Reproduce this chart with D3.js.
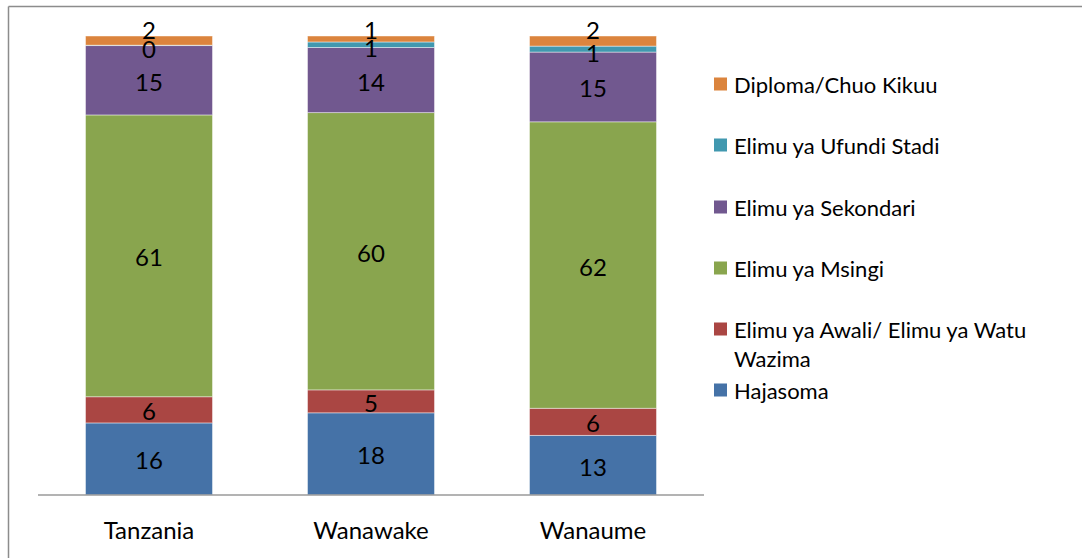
<!DOCTYPE html>
<html>
<head>
<meta charset="utf-8">
<script src="https://cdn.jsdelivr.net/npm/d3@7"></script>
<style>
  html, body { margin: 0; padding: 0; background: #fff; }
  svg { display: block; font-family: Lato, "Open Sans", sans-serif; }
</style>
</head>
<body>
<svg id="chart" width="1082" height="558"></svg>
<script>
// ---- Data ----
const categories = ["Tanzania", "Wanawake", "Wanaume"];
const seriesNames = ["Hajasoma", "Elimu ya Awali/ Elimu ya Watu Wazima", "Elimu ya Msingi", "Elimu ya Sekondari", "Elimu ya Ufundi Stadi", "Diploma/Chuo Kikuu"];
const hajasoma   = [15.7, 17.9, 13.0];
const awali      = [5.7, 5.0, 5.9];
const msingi     = [61.4, 60.4, 62.4];
const sekondari  = [15.1, 14.2, 15.2];
const ufundi     = [0.1, 1.2, 1.3];
const diploma    = [2.0, 1.3, 2.2];
const seriesColors = ["#4572A7", "#AA4643", "#89A54E", "#71588F", "#4198AF", "#DB843D"];
const legendLines = {"Elimu ya Awali/ Elimu ya Watu Wazima": ["Elimu ya Awali/ Elimu ya Watu", "Wazima"]};

const seriesValues = [hajasoma, awali, msingi, sekondari, ufundi, diploma];
const rows = categories.map((c, i) => {
  const r = {category: c};
  seriesNames.forEach((s, j) => r[s] = seriesValues[j][i]);
  return r;
});

const svg = d3.select("#chart");

// chart border (top & left visible)
svg.append("line").attr("x1", 8.5).attr("x2", 1082).attr("y1", 6.5).attr("y2", 6.5)
  .attr("stroke", "#8c8c8c").attr("stroke-width", 1.5);
svg.append("line").attr("x1", 8.5).attr("x2", 8.5).attr("y1", 6.5).attr("y2", 558)
  .attr("stroke", "#8c8c8c").attr("stroke-width", 1.5);

const plot = {left: 38, right: 704, top: 36, bottom: 495};

const x = d3.scaleBand().domain(categories).range([plot.left, plot.right])
  .paddingInner(0.428).paddingOuter(0.214);
const y = d3.scaleLinear().domain([0, 100]).range([plot.bottom, plot.top]);

const stack = d3.stack().keys(seriesNames);
const stacked = stack(rows);

const g = svg.append("g");
const layers = g.selectAll("g.layer").data(stacked).join("g")
  .attr("class", "layer")
  .attr("fill", (d, i) => seriesColors[i]);

layers.selectAll("rect").data(d => d).join("rect")
  .attr("x", d => x(d.data.category))
  .attr("width", x.bandwidth())
  .attr("y", d => y(d[1]))
  .attr("height", d => Math.max(0, y(d[0]) - y(d[1])))
  .attr("stroke", "rgba(255,255,255,0.55)")
  .attr("stroke-width", 0.8);

// data labels
const nSeries = seriesNames.length;
stacked.forEach((layer, si) => {
  layer.forEach(d => {
    let cy = (y(d[0]) + y(d[1])) / 2 + 1;
    if (si === nSeries - 1) cy = y(d[1]) - 7;       // top label pushed above
    else if (si === nSeries - 2) cy = cy + 2;
    g.append("text")
      .attr("x", x(d.data.category) + x.bandwidth() / 2)
      .attr("y", cy)
      .attr("text-anchor", "middle")
      .attr("dominant-baseline", "central")
      .attr("font-size", 24)
      .attr("fill", "#000")
      .text(Math.round(d[1] - d[0]));
  });
});

// x axis
const xAxis = svg.append("g").attr("transform", `translate(0,${plot.bottom})`)
  .call(d3.axisBottom(x).tickSize(0).tickPadding(27));
xAxis.select(".domain").attr("stroke", "#9a9a9a").attr("stroke-width", 1.5)
  .attr("d", `M${plot.left},0H${plot.right}`);
xAxis.selectAll("text").attr("font-size", 24).attr("fill", "#000")
  .attr("font-family", "Lato, 'Open Sans', sans-serif");

// legend
const legendOrder = seriesNames.slice().reverse();
const legend = svg.append("g");
const rowY = [84, 145, 207, 268, 329, 390];
legendOrder.forEach((name, i) => {
  const ci = seriesNames.indexOf(name);
  const cy = rowY[i];
  legend.append("rect").attr("x", 714).attr("y", cy - 6.5).attr("width", 13).attr("height", 13)
    .attr("fill", seriesColors[ci]);
  const lines = legendLines[name] || [name];
  lines.forEach((ln, k) => {
    legend.append("text").attr("x", 734).attr("y", cy + k * 29)
      .attr("dominant-baseline", "central")
      .attr("font-size", 22).attr("fill", "#000").text(ln);
  });
});
</script>
</body>
</html>
